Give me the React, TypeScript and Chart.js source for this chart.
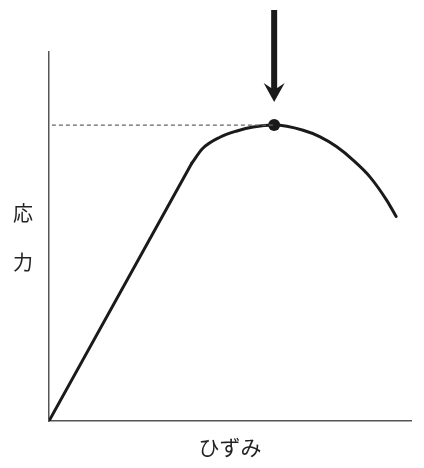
import React, { useEffect, useRef } from 'react';
import { Chart, registerables, Plugin } from 'chart.js';

Chart.register(...registerables);

// stress-strain curve (arbitrary units, axes 0..10)
// elastic part: straight from the origin to the knee
const elasticStrain = [0, 3.94];
const elasticStress = [0, 6.98];
// plastic part: from the knee over the maximum to the end
const plasticStrain = [3.94, 4.25, 4.72, 5.19, 5.64, 6.22, 7.02, 7.49, 7.95, 8.4, 8.87, 9.33, 9.59];
const plasticStress = [6.98, 7.39, 7.69, 7.86, 7.97, 8.02, 7.88, 7.7, 7.43, 7.07, 6.61, 5.98, 5.54];

// the maximum (tensile strength) point
const peakStrain = [6.22];
const peakStress = [8.02];

// dashed guide from the axis to the peak
const guideStrain = [0.08, 6.22];

const yLabel = ['応', '力'];
const xLabel = 'ひずみ';

const FONT = '"Noto Sans CJK JP", "Noto Sans", sans-serif';
const INK = '#1a1a1a';

// arrow pointing at the peak + axis labels
const annotations: Plugin<'line'> = {
    id: 'annotations',
    afterDatasetsDraw(chart) {
        const { ctx, scales, chartArea } = chart;
        const px = scales.x.getPixelForValue(peakStrain[0]);
        const py = scales.y.getPixelForValue(peakStress[0]);

        ctx.save();
        ctx.fillStyle = INK;
        ctx.strokeStyle = INK;

        // shaft
        const tipY = py - 23;
        ctx.lineWidth = 6;
        ctx.beginPath();
        ctx.moveTo(px, 10);
        ctx.lineTo(px, tipY - 12);
        ctx.stroke();

        // head
        ctx.beginPath();
        ctx.moveTo(px, tipY);
        ctx.lineTo(px - 10.5, tipY - 19);
        ctx.lineTo(px, tipY - 12);
        ctx.lineTo(px + 10.5, tipY - 19);
        ctx.closePath();
        ctx.fill();

        // labels
        ctx.fillStyle = '#222';
        ctx.textAlign = 'center';
        ctx.textBaseline = 'middle';
        ctx.font = `20px ${FONT}`;
        ctx.fillText(yLabel[0], 23, 213);
        ctx.fillText(yLabel[1], 23, 262);
        ctx.font = `21px ${FONT}`;
        ctx.fillText(xLabel, (chartArea.left + chartArea.right) / 2, 447);
        ctx.restore();
    },
};

const App: React.FC = () => {
    const canvasRef = useRef<HTMLCanvasElement>(null);

    useEffect(() => {
        if (!canvasRef.current) return;

        const chart = new Chart(canvasRef.current, {
            type: 'line',
            data: {
                datasets: [
                    {
                        label: 'guide',
                        data: guideStrain.map((x) => ({ x, y: peakStress[0] })),
                        borderColor: '#666',
                        borderWidth: 1.2,
                        borderDash: [4, 3],
                        pointRadius: 0,
                    },
                    {
                        label: 'elastic',
                        data: elasticStrain.map((x, i) => ({ x, y: elasticStress[i] })),
                        borderColor: INK,
                        borderWidth: 3,
                        borderCapStyle: 'round',
                        pointRadius: 0,
                    },
                    {
                        label: 'plastic',
                        data: plasticStrain.map((x, i) => ({ x, y: plasticStress[i] })),
                        borderColor: INK,
                        borderWidth: 3,
                        borderCapStyle: 'round',
                        pointRadius: 0,
                        cubicInterpolationMode: 'monotone',
                    },
                    {
                        label: 'peak',
                        data: peakStrain.map((x, i) => ({ x, y: peakStress[i] })),
                        showLine: false,
                        pointRadius: 6,
                        pointBackgroundColor: INK,
                        pointBorderWidth: 0,
                    },
                ],
            },
            options: {
                animation: false,
                responsive: true,
                maintainAspectRatio: false,
                layout: {
                    padding: { left: 49, right: 13, top: 52, bottom: 47 },
                },
                plugins: {
                    legend: { display: false },
                    tooltip: { enabled: false },
                },
                scales: {
                    x: {
                        type: 'linear',
                        min: 0,
                        max: 10,
                        ticks: { display: false },
                        grid: { display: false },
                        border: { color: '#555', width: 1.5 },
                        afterFit: (scale) => {
                            scale.height = 0;
                            scale.paddingLeft = 0;
                            scale.paddingRight = 0;
                        },
                    },
                    y: {
                        min: 0,
                        max: 10,
                        ticks: { display: false },
                        grid: { display: false },
                        border: { color: '#555', width: 1.5 },
                        afterFit: (scale) => {
                            scale.width = 0;
                            scale.paddingTop = 0;
                            scale.paddingBottom = 0;
                        },
                    },
                },
            },
            plugins: [annotations],
        });

        return () => {
            chart.destroy();
        };
    }, []);

    return (
        <div style={{ position: 'absolute', left: 0, top: 0, width: 424, height: 468, background: '#fff' }}>
            <canvas ref={canvasRef} />
        </div>
    );
};

export default App;
